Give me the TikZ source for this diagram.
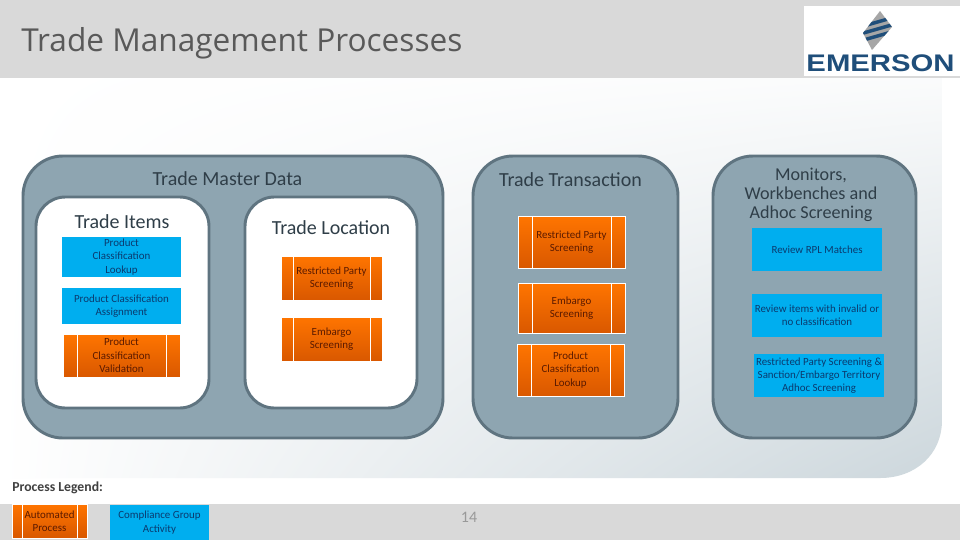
\documentclass[tikz,border=0pt]{standalone}
\usepackage{fontspec}
\usetikzlibrary{shadings}
\setmainfont{Carlito}
\newfontfamily\titlefont{Open Sans}
\newfontfamily\logofont{Liberation Sans}
\definecolor{bandgray}{HTML}{D9D9D9}
\definecolor{panelfill}{HTML}{8EA5B1}
\definecolor{paneledge}{HTML}{5F7480}
\definecolor{headtext}{HTML}{2F3E48}
\definecolor{bluefill}{HTML}{00AEEF}
\definecolor{bluetext}{HTML}{0B3A6E}
\definecolor{orangetop}{HTML}{FF7500}
\definecolor{orangelow}{HTML}{D95800}
\definecolor{orangetext}{HTML}{5A1A00}
\definecolor{logoblue}{HTML}{1F4E7A}
\begin{document}
\begin{tikzpicture}[x=0.75pt,y=-0.75pt]
 \tikzset{boxsize/.style 2 args={minimum width=#1*0.75pt, minimum height=#2*0.75pt, inner sep=0pt, outer sep=0pt}}
 \tikzset{panel/.style={draw=paneledge, line width=2.2pt, fill=panelfill, rounded corners=30pt}}
 \tikzset{inner panel/.style={draw=paneledge, line width=2.2pt, fill=white, rounded corners=22pt}}
 \tikzset{head/.style={text=headtext, font=\fontsize{15}{14.5}\selectfont, align=center, inner sep=0pt}}
 \tikzset{small/.style={font=\fontsize{8.2}{10}\selectfont, align=center}}
 \tikzset{bluebox/.style={small, fill=bluefill, text=bluetext}}
 \tikzset{orangebox/.style={small, draw=white, line width=0.6pt, top color=orangetop, bottom color=orangelow, text=orangetext,
   path picture={\draw[white, line width=0.6pt] ([xshift=#1*0.75pt]path picture bounding box.north west) -- ([xshift=#1*0.75pt]path picture bounding box.south west);
   \draw[white, line width=0.6pt] ([xshift=-#1*0.75pt]path picture bounding box.north east) -- ([xshift=-#1*0.75pt]path picture bounding box.south east);}}}
 \useasboundingbox (0,0) rectangle (960,540);
 % background
 \fill[white] (0,0) rectangle (960,540);
 \shade[upper left=white, upper right=white!96!panelfill, lower left=white, lower right=panelfill!45!white]
   (0,78) -- (942,78) -- (942,420) .. controls (942,455) and (915,478) .. (880,478) -- (0,478) -- cycle;
 \fill[bandgray] (0,0) rectangle (960,78);
 \fill[bandgray] (0,504) rectangle (960,540);
 \node[text=black!65, font=\titlefont\fontsize{23.7}{26}\selectfont, anchor=west, inner sep=0pt] (title) at (21,43) {Trade Management Processes};
 % logo
 \fill[white] (804,6) rectangle (960,76);
 \fill[black!35] (880,11) -- (892,27) -- (872,50) -- (863,33) -- cycle;
 \begin{scope}
  \clip (880,11) -- (892,27) -- (872,50) -- (863,33) -- cycle;
  \draw[logoblue, line width=2.6pt] (860,27) -- (895,17);
  \draw[logoblue, line width=2.6pt] (860,34) -- (895,24);
  \draw[logoblue, line width=2.6pt] (860,41) -- (895,31);
 \end{scope}
 \node[text=logoblue, font=\logofont\bfseries\fontsize{18}{20}\selectfont, xscale=1.22, inner sep=0pt] (logo) at (880.5,63.5) {EMERSON};
 % master data
 \node[panel, boxsize={420}{282}] (master) at (233,297) {};
 \node[inner panel, boxsize={173}{211}] (items) at (122.5,302.5) {};
 \node[inner panel, boxsize={172}{211}] (location) at (331,302.5) {};
 \node[head] (masterhead) at (227.5,179) {Trade Master Data};
 \node[head] (itemshead) at (122,222) {Trade Items};
 \node[head] (locationhead) at (331,228) {Trade Location};
 \node[bluebox, boxsize={119}{40}] (lookup) at (121.5,257) {Product\\Classification\\Lookup};
 \node[bluebox, boxsize={119}{36}] (assign) at (121.5,306) {Product Classification\\Assignment};
 \node[orangebox=14, boxsize={117}{43}] (valid) at (121.5,355.5) {Product\\Classification\\Validation};
 \node[orangebox=12, boxsize={101}{44}] (restrict) at (331.5,278) {Restricted Party\\Screening};
 \node[orangebox=12, boxsize={101}{44}] (embargo) at (331.5,339) {Embargo\\Screening};
 % transaction
 \node[panel, boxsize={205}{282}] (trans) at (575.5,297) {};
 \node[head] (transhead) at (570.5,180) {Trade Transaction};
 \node[orangebox=14, boxsize={107}{52}] (trestrict) at (571.5,242) {Restricted Party\\Screening};
 \node[orangebox=14, boxsize={107}{50}] (tembargo) at (571.5,308) {Embargo\\Screening};
 \node[orangebox=14, boxsize={107}{52}] (tlookup) at (570.5,370) {Product\\Classification\\Lookup};
 % monitors
 \node[panel, boxsize={203}{282}] (monitors) at (814.5,297) {};
 \node[head, font=\fontsize{13.6}{14.25}\selectfont] (monitorshead) at (811,195) {Monitors,\\Workbenches and\\Adhoc Screening};
 \node[bluebox, boxsize={130}{43}] (rpl) at (817,249.5) {Review RPL Matches};
 \node[bluebox, boxsize={130}{43}] (invalid) at (817,315.5) {Review items with invalid or\\no classification};
 \node[bluebox, boxsize={130}{43}] (adhoc) at (819,375.5) {Restricted Party Screening \&\\Sanction/Embargo Territory\\Adhoc Screening};
 % legend
 \node[text=black!75, font=\bfseries\fontsize{10.3}{12}\selectfont, anchor=west, inner sep=0pt] (legend) at (12,488) {Process Legend:};
 \node[orangebox=10, boxsize={75}{34}] (auto) at (49.5,521) {Automated\\Process};
 \node[bluebox, boxsize={99}{35}] (group) at (159.5,522.5) {Compliance Group\\Activity};
 \node[text=black!40, font=\fontsize{12}{14}\selectfont, inner sep=0pt] (page) at (469,517) {14};
\end{tikzpicture}
\end{document}
